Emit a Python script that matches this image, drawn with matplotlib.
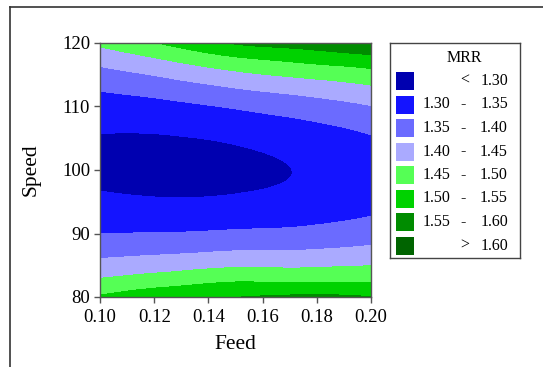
import matplotlib
matplotlib.use("Agg")
import matplotlib.pyplot as plt
import matplotlib.tri as mtri
import numpy as np
from matplotlib.lines import Line2D
from matplotlib.patches import Rectangle

plt.rcParams["font.family"] = ["Liberation Serif", "DejaVu Serif"]

# Response grid: rows follow speed, columns follow feed
feed = [0.100, 0.125, 0.150, 0.175, 0.200]
speed = [80.0, 82.5, 85.0, 87.5, 90.0, 92.5, 95.0, 97.5, 100.0,
         102.5, 105.0, 107.5, 110.0, 112.5, 115.0, 117.5, 120.0]
mrr = [
    [1.506, 1.536, 1.549, 1.560, 1.552],
    [1.458, 1.479, 1.497, 1.494, 1.497],
    [1.416, 1.429, 1.442, 1.442, 1.449],
    [1.380, 1.387, 1.396, 1.398, 1.409],
    [1.350, 1.352, 1.358, 1.363, 1.377],
    [1.326, 1.324, 1.329, 1.336, 1.352],
    [1.308, 1.304, 1.307, 1.317, 1.336],
    [1.297, 1.291, 1.295, 1.306, 1.327],
    [1.291, 1.285, 1.290, 1.303, 1.325],
    [1.291, 1.287, 1.294, 1.309, 1.332],
    [1.297, 1.297, 1.306, 1.323, 1.346],
    [1.309, 1.313, 1.327, 1.345, 1.368],
    [1.327, 1.337, 1.355, 1.375, 1.398],
    [1.351, 1.369, 1.393, 1.413, 1.435],
    [1.382, 1.408, 1.438, 1.460, 1.481],
    [1.418, 1.454, 1.492, 1.514, 1.533],
    [1.460, 1.508, 1.555, 1.572, 1.603],
]

levels = [1.30, 1.35, 1.40, 1.45, 1.50, 1.55, 1.60]
band_colors = ["#0000b0", "#1414ff", "#6b6bff", "#aaaaff",
               "#55ff55", "#00d200", "#008c00", "#006400"]
x_ticks = [0.10, 0.12, 0.14, 0.16, 0.18, 0.20]
y_ticks = [80, 90, 100, 110, 120]

W, H = 543, 367
fig = plt.figure(figsize=(W / 100, H / 100), dpi=100)


def px_box(left, top, right, bottom):
    return [left / W, (H - bottom) / H, (right - left) / W, (bottom - top) / H]


ax = fig.add_axes(px_box(100, 43, 371, 297))

ff, ss = np.meshgrid(feed, speed)
triang = mtri.Triangulation(ff.ravel(), ss.ravel())
refiner = mtri.UniformTriRefiner(triang)
tri_fine, z_fine = refiner.refine_field(np.array(mrr).ravel(), subdiv=4)

bounds = [0.0] + levels + [3.0]
ax.tricontourf(tri_fine, z_fine, levels=bounds, colors=band_colors)

ax.set_xlim(0.10, 0.20)
ax.set_ylim(80, 120)
ax.set_xticks(x_ticks)
ax.set_xticklabels([f"{v:.2f}" for v in x_ticks])
ax.set_yticks(y_ticks)
ax.tick_params(direction="out", length=4, width=1, color="#555555",
               labelsize=13.5, pad=3)
ax.tick_params(axis="x", pad=5)
for sp in ax.spines.values():
    sp.set_color("#555555")
    sp.set_linewidth(1.0)

ax.set_xlabel("Feed", fontsize=15.5)
ax.set_ylabel("Speed", fontsize=15.5)
ax.xaxis.set_label_coords(0.5, -0.15)
ax.yaxis.set_label_coords(-0.22, 0.5)

# Legend box drawn in its own pixel-based axes
lax = fig.add_axes(px_box(390, 43, 520, 258))
lax.set_xlim(0, 130)
lax.set_ylim(215, 0)
lax.set_xticks([])
lax.set_yticks([])
for sp in lax.spines.values():
    sp.set_color("#444444")
    sp.set_linewidth(1.0)

lax.text(74, 15, "MRR", ha="center", va="center", fontsize=11.5)
row_y = 38.0
for i, color in enumerate(band_colors):
    lax.add_patch(Rectangle((6, row_y - 9), 18, 18, facecolor=color,
                            edgecolor="none"))
    if i == 0:
        lax.text(70, row_y, "<", ha="left", va="center", fontsize=11.5)
        lax.text(118, row_y, f"{levels[0]:.2f}", ha="right", va="center",
                 fontsize=11.5)
    elif i == len(band_colors) - 1:
        lax.text(70, row_y, ">", ha="left", va="center", fontsize=11.5)
        lax.text(118, row_y, f"{levels[-1]:.2f}", ha="right", va="center",
                 fontsize=11.5)
    else:
        lax.text(32.7, row_y, f"{levels[i - 1]:.2f}", ha="left", va="center",
                 fontsize=11.5)
        lax.text(70, row_y, "-", ha="left", va="center", fontsize=11.5)
        lax.text(118, row_y, f"{levels[i]:.2f}", ha="right", va="center",
                 fontsize=11.5)
    row_y += 23.5

# outer frame (top and left edges)
fig.add_artist(Line2D([10 / W, 10 / W], [0, 1 - 7 / H],
                      transform=fig.transFigure, color="#333333", lw=1.2))
fig.add_artist(Line2D([10 / W, 1], [1 - 7 / H, 1 - 7 / H],
                      transform=fig.transFigure, color="#333333", lw=1.2))

fig.savefig("out.png", dpi=100)
